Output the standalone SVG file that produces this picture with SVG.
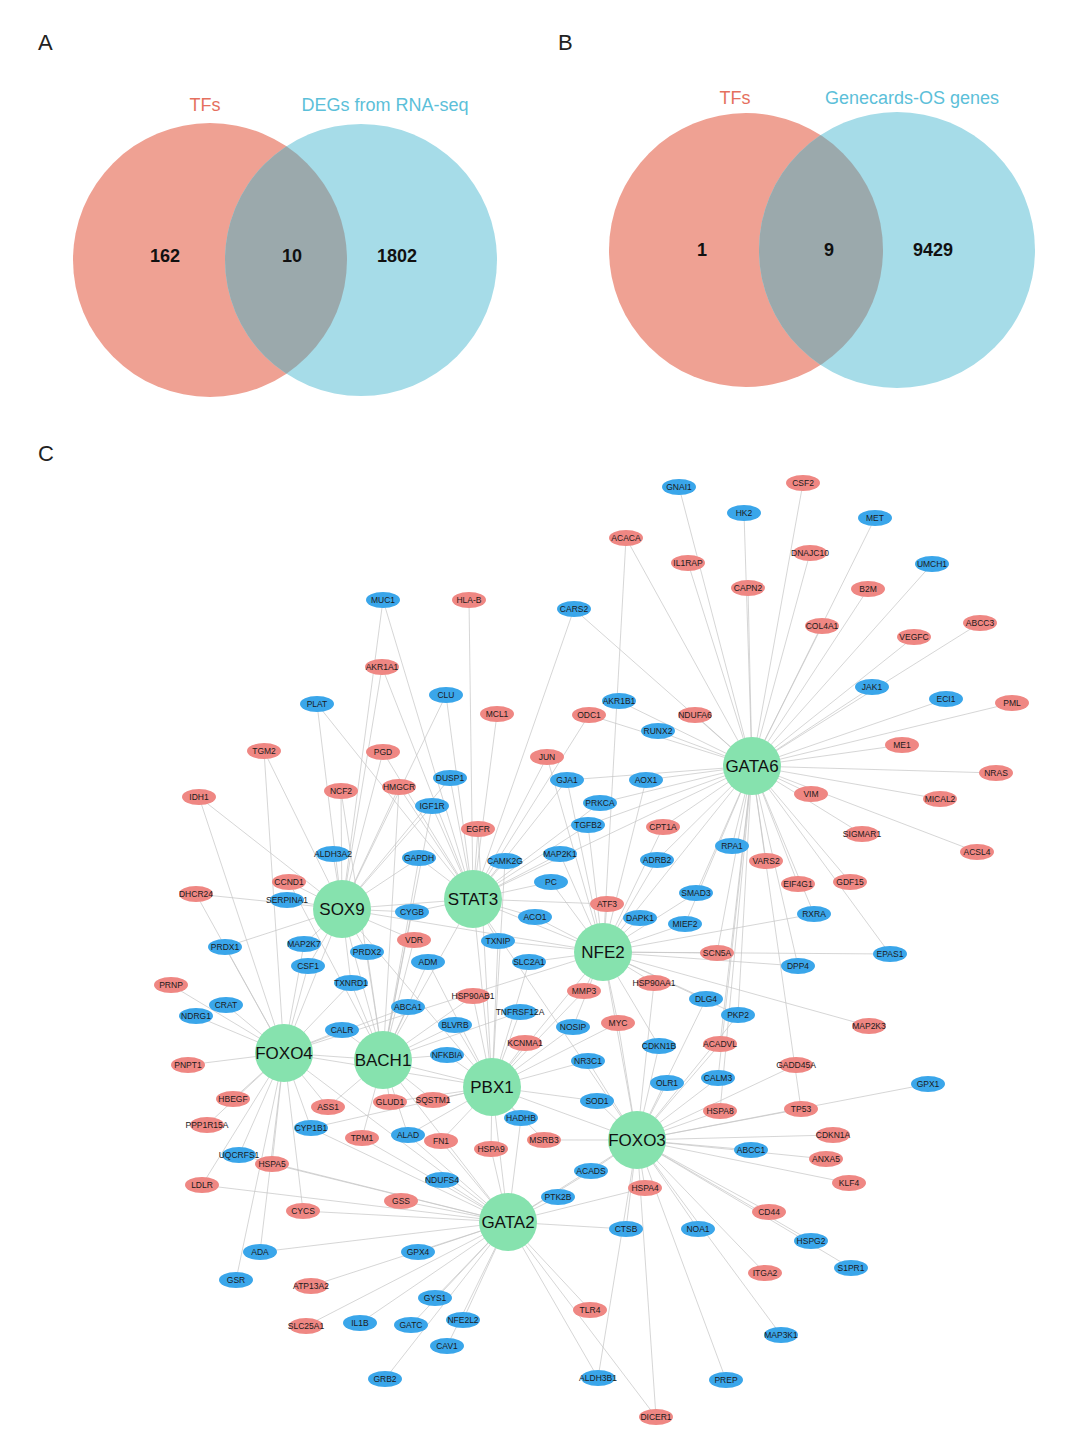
<svg xmlns="http://www.w3.org/2000/svg" width="1072" height="1452" viewBox="0 0 1072 1452">
<style>
text{font-family:"Liberation Sans",Arial,sans-serif}
.L{font-size:22px;fill:#222}
.vt{font-size:18px}
.vn{font-size:18px;font-weight:bold;fill:#111;text-anchor:middle}
.r{fill:#EF8783}
.b{fill:#3AA6EA}
.h{fill:#86E2AE}
.n text{font-size:8.5px;fill:#1a1a1a;text-anchor:middle}
.hub text{font-size:17px;fill:#111;text-anchor:middle}
#edges path{stroke:#c4c4c4;stroke-width:0.7;fill:none}
</style>
<defs>
<clipPath id="ca"><circle cx="210" cy="260" r="137"/></clipPath>
<clipPath id="cb"><circle cx="746" cy="250" r="137"/></clipPath>
</defs>
<rect width="1072" height="1452" fill="#fff"/>
<text class="L" x="38" y="50">A</text>
<text class="L" x="558" y="50">B</text>
<text class="L" x="38" y="461">C</text>
<g id="vennA">
<circle cx="210" cy="260" r="137" fill="#EFA193"/>
<circle cx="361" cy="260" r="136" fill="#A6DCE8"/>
<circle cx="361" cy="260" r="136" fill="#9BA9AC" clip-path="url(#ca)"/>
<text class="vt" x="205" y="111" fill="#E5705E" text-anchor="middle">TFs</text>
<text class="vt" x="385" y="111" fill="#5CBFD9" text-anchor="middle">DEGs from RNA-seq</text>
<text class="vn" x="165" y="262">162</text>
<text class="vn" x="292" y="262">10</text>
<text class="vn" x="397" y="262">1802</text>
</g>
<g id="vennB">
<circle cx="746" cy="250" r="137" fill="#EFA193"/>
<circle cx="897" cy="250" r="138" fill="#A6DCE8"/>
<circle cx="897" cy="250" r="138" fill="#9BA9AC" clip-path="url(#cb)"/>
<text class="vt" x="735" y="104" fill="#E5705E" text-anchor="middle">TFs</text>
<text class="vt" x="912" y="104" fill="#5CBFD9" text-anchor="middle">Genecards-OS genes</text>
<text class="vn" x="702" y="256">1</text>
<text class="vn" x="829" y="256">9</text>
<text class="vn" x="933" y="256">9429</text>
</g>
<g id="edges">
<path d="M752 766L679 487M752 766L803 483M752 766L744 513M752 766L875 518M752 766L626 538M752 766L688 563M752 766L810 553M752 766L932 564M752 766L748 588M752 766L868 589M752 766L822 626M752 766L980 623M752 766L914 637M752 766L872 687M752 766L946 699M752 766L1012 703M752 766L902 745M752 766L996 773M752 766L811 794M752 766L940 799M752 766L862 834M752 766L977 852M752 766L658 731M752 766L695 715M752 766L619 701M752 766L589 715M752 766L798 884M752 766L850 882M752 766L814 914M752 766L890 954M752 766L766 861M752 766L732 846M752 766L798 966M752 766L717 953M752 766L663 827M752 766L657 860M752 766L646 780M752 766L696 893M752 766L738 1015M752 766L720 1044M752 766L685 924M752 766L718 1078M752 766L567 780M752 766L600 803M752 766L588 825M752 766L720 1111M752 766L801 1109M752 766L574 609"/>
<path d="M342 909L199 797M342 909L264 751M342 909L317 704M342 909L382 667M342 909L341 791M342 909L383 752M342 909L333 854M342 909L289 882M342 909L196 894M342 909L287 900M342 909L304 944M342 909L225 947M342 909L412 912M342 909L419 858M342 909L399 787M342 909L383 600M342 909L446 695M342 909L450 778M342 909L432 806M342 909L308 966M342 909L367 952M342 909L414 940M342 909L351 983"/>
<path d="M473 899L469 600M473 899L497 714M473 899L446 695M473 899L547 757M473 899L478 829M473 899L505 861M473 899L560 854M473 899L551 882M473 899L419 858M473 899L432 806M473 899L450 778M473 899L567 780M473 899L600 803M473 899L588 825M473 899L535 917M473 899L498 941M473 899L412 912M473 899L607 904M473 899L399 787M473 899L383 752M473 899L382 667M473 899L383 600M473 899L574 609M473 899L589 715M473 899L317 704"/>
<path d="M603 952L607 904M603 952L640 918M603 952L685 924M603 952L696 893M603 952L717 953M603 952L654 983M603 952L584 991M603 952L618 1023M603 952L706 999M603 952L738 1015M603 952L529 962M603 952L535 917M603 952L551 882M603 952L588 825M603 952L657 860M603 952L663 827M603 952L890 954M603 952L869 1026M603 952L798 966M603 952L814 914M603 952L646 780M603 952L547 757M603 952L567 780M603 952L560 854M603 952L498 941M603 952L573 1027M603 952L659 1046M603 952L626 538"/>
<path d="M284 1053L171 985M284 1053L226 1005M284 1053L196 1016M284 1053L188 1065M284 1053L233 1099M284 1053L207 1125M284 1053L239 1155M284 1053L308 966M284 1053L225 947M284 1053L304 944M284 1053L351 983M284 1053L342 1030M284 1053L408 1007M284 1053L311 1128M284 1053L328 1107M284 1053L202 1185M284 1053L272 1164M284 1053L196 894M284 1053L199 797M284 1053L260 1252M284 1053L236 1280M284 1053L303 1211M284 1053L264 751"/>
<path d="M383 1060L342 1030M383 1060L408 1007M383 1060L455 1025M383 1060L447 1055M383 1060L390 1102M383 1060L433 1100M383 1060L428 962M383 1060L367 952M383 1060L414 940M383 1060L351 983M383 1060L473 996M383 1060L520 1012M383 1060L328 1107M383 1060L362 1138M383 1060L408 1135M383 1060L412 912M383 1060L419 858M383 1060L289 882M383 1060L399 787M383 1060L432 806M383 1060L341 791"/>
<path d="M492 1087L521 1118M492 1087L433 1100M492 1087L390 1102M492 1087L441 1141M492 1087L491 1149M492 1087L544 1140M492 1087L588 1061M492 1087L597 1101M492 1087L525 1043M492 1087L573 1027M492 1087L455 1025M492 1087L447 1055M492 1087L520 1012M492 1087L473 996M492 1087L584 991M492 1087L408 1135M492 1087L529 962M492 1087L428 962M492 1087L618 1023M492 1087L498 941M492 1087L478 829M492 1087L505 861M492 1087L311 1128"/>
<path d="M637 1140L597 1101M637 1140L667 1083M637 1140L659 1046M637 1140L718 1078M637 1140L720 1111M637 1140L801 1109M637 1140L833 1135M637 1140L751 1150M637 1140L826 1159M637 1140L849 1183M637 1140L645 1188M637 1140L591 1171M637 1140L769 1212M637 1140L626 1229M637 1140L698 1229M637 1140L811 1241M637 1140L851 1268M637 1140L765 1273M637 1140L781 1335M637 1140L726 1380M637 1140L720 1044M637 1140L796 1065M637 1140L928 1084M637 1140L706 999M637 1140L738 1015M637 1140L618 1023M637 1140L588 1061M637 1140L544 1140M637 1140L654 983M637 1140L656 1417M637 1140L598 1378"/>
<path d="M508 1222L558 1197M508 1222L401 1201M508 1222L442 1180M508 1222L418 1252M508 1222L435 1298M508 1222L463 1320M508 1222L411 1325M508 1222L447 1346M508 1222L385 1379M508 1222L360 1323M508 1222L306 1326M508 1222L311 1286M508 1222L590 1310M508 1222L598 1378M508 1222L656 1417M508 1222L591 1171M508 1222L491 1149M508 1222L441 1141M508 1222L362 1138M508 1222L303 1211M508 1222L645 1188M508 1222L626 1229M508 1222L521 1118M508 1222L408 1135M508 1222L311 1128M508 1222L272 1164M508 1222L239 1155M508 1222L202 1185M508 1222L260 1252"/>
<path d="M342 909L473 899M342 909L284 1053M342 909L383 1060M473 899L603 952M473 899L492 1087M383 1060L492 1087M284 1053L383 1060M492 1087L637 1140M492 1087L508 1222M603 952L637 1140M603 952L752 766M473 899L383 1060M603 952L492 1087M637 1140L508 1222M383 1060L508 1222M284 1053L492 1087M342 909L603 952M473 899L637 1140M284 1053L508 1222M473 899L752 766M342 909L492 1087M284 1053L603 952"/>
</g>
<g id="n-GNAI1" class="n"><ellipse class="b" cx="679" cy="487" rx="17" ry="8"/><text x="679" y="490">GNAI1</text></g>
<g id="n-CSF2" class="n"><ellipse class="r" cx="803" cy="483" rx="17" ry="8"/><text x="803" y="486">CSF2</text></g>
<g id="n-HK2" class="n"><ellipse class="b" cx="744" cy="513" rx="17" ry="8"/><text x="744" y="516">HK2</text></g>
<g id="n-MET" class="n"><ellipse class="b" cx="875" cy="518" rx="17" ry="8"/><text x="875" y="521">MET</text></g>
<g id="n-ACACA" class="n"><ellipse class="r" cx="626" cy="538" rx="17" ry="8"/><text x="626" y="541">ACACA</text></g>
<g id="n-IL1RAP" class="n"><ellipse class="r" cx="688" cy="563" rx="17" ry="8"/><text x="688" y="566">IL1RAP</text></g>
<g id="n-DNAJC10" class="n"><ellipse class="r" cx="810" cy="553" rx="17" ry="8"/><text x="810" y="556">DNAJC10</text></g>
<g id="n-UMCH1" class="n"><ellipse class="b" cx="932" cy="564" rx="17" ry="8"/><text x="932" y="567">UMCH1</text></g>
<g id="n-CAPN2" class="n"><ellipse class="r" cx="748" cy="588" rx="17" ry="8"/><text x="748" y="591">CAPN2</text></g>
<g id="n-B2M" class="n"><ellipse class="r" cx="868" cy="589" rx="17" ry="8"/><text x="868" y="592">B2M</text></g>
<g id="n-MUC1" class="n"><ellipse class="b" cx="383" cy="600" rx="17" ry="8"/><text x="383" y="603">MUC1</text></g>
<g id="n-HLA-B" class="n"><ellipse class="r" cx="469" cy="600" rx="17" ry="8"/><text x="469" y="603">HLA-B</text></g>
<g id="n-CARS2" class="n"><ellipse class="b" cx="574" cy="609" rx="17" ry="8"/><text x="574" y="612">CARS2</text></g>
<g id="n-COL4A1" class="n"><ellipse class="r" cx="822" cy="626" rx="17" ry="8"/><text x="822" y="629">COL4A1</text></g>
<g id="n-ABCC3" class="n"><ellipse class="r" cx="980" cy="623" rx="17" ry="8"/><text x="980" y="626">ABCC3</text></g>
<g id="n-VEGFC" class="n"><ellipse class="r" cx="914" cy="637" rx="17" ry="8"/><text x="914" y="640">VEGFC</text></g>
<g id="n-AKR1A1" class="n"><ellipse class="r" cx="382" cy="667" rx="17" ry="8"/><text x="382" y="670">AKR1A1</text></g>
<g id="n-JAK1" class="n"><ellipse class="b" cx="872" cy="687" rx="17" ry="8"/><text x="872" y="690">JAK1</text></g>
<g id="n-CLU" class="n"><ellipse class="b" cx="446" cy="695" rx="17" ry="8"/><text x="446" y="698">CLU</text></g>
<g id="n-PLAT" class="n"><ellipse class="b" cx="317" cy="704" rx="17" ry="8"/><text x="317" y="707">PLAT</text></g>
<g id="n-AKR1B1" class="n"><ellipse class="b" cx="619" cy="701" rx="17" ry="8"/><text x="619" y="704">AKR1B1</text></g>
<g id="n-ECI1" class="n"><ellipse class="b" cx="946" cy="699" rx="17" ry="8"/><text x="946" y="702">ECI1</text></g>
<g id="n-PML" class="n"><ellipse class="r" cx="1012" cy="703" rx="17" ry="8"/><text x="1012" y="706">PML</text></g>
<g id="n-MCL1" class="n"><ellipse class="r" cx="497" cy="714" rx="17" ry="8"/><text x="497" y="717">MCL1</text></g>
<g id="n-ODC1" class="n"><ellipse class="r" cx="589" cy="715" rx="17" ry="8"/><text x="589" y="718">ODC1</text></g>
<g id="n-NDUFA6" class="n"><ellipse class="r" cx="695" cy="715" rx="17" ry="8"/><text x="695" y="718">NDUFA6</text></g>
<g id="n-RUNX2" class="n"><ellipse class="b" cx="658" cy="731" rx="17" ry="8"/><text x="658" y="734">RUNX2</text></g>
<g id="n-ME1" class="n"><ellipse class="r" cx="902" cy="745" rx="17" ry="8"/><text x="902" y="748">ME1</text></g>
<g id="n-TGM2" class="n"><ellipse class="r" cx="264" cy="751" rx="17" ry="8"/><text x="264" y="754">TGM2</text></g>
<g id="n-PGD" class="n"><ellipse class="r" cx="383" cy="752" rx="17" ry="8"/><text x="383" y="755">PGD</text></g>
<g id="n-JUN" class="n"><ellipse class="r" cx="547" cy="757" rx="17" ry="8"/><text x="547" y="760">JUN</text></g>
<g id="n-NCF2" class="n"><ellipse class="r" cx="341" cy="791" rx="17" ry="8"/><text x="341" y="794">NCF2</text></g>
<g id="n-HMGCR" class="n"><ellipse class="r" cx="399" cy="787" rx="17" ry="8"/><text x="399" y="790">HMGCR</text></g>
<g id="n-DUSP1" class="n"><ellipse class="b" cx="450" cy="778" rx="17" ry="8"/><text x="450" y="781">DUSP1</text></g>
<g id="n-GJA1" class="n"><ellipse class="b" cx="567" cy="780" rx="17" ry="8"/><text x="567" y="783">GJA1</text></g>
<g id="n-AOX1" class="n"><ellipse class="b" cx="646" cy="780" rx="17" ry="8"/><text x="646" y="783">AOX1</text></g>
<g id="n-IDH1" class="n"><ellipse class="r" cx="199" cy="797" rx="17" ry="8"/><text x="199" y="800">IDH1</text></g>
<g id="n-NRAS" class="n"><ellipse class="r" cx="996" cy="773" rx="17" ry="8"/><text x="996" y="776">NRAS</text></g>
<g id="n-VIM" class="n"><ellipse class="r" cx="811" cy="794" rx="17" ry="8"/><text x="811" y="797">VIM</text></g>
<g id="n-MICAL2" class="n"><ellipse class="r" cx="940" cy="799" rx="17" ry="8"/><text x="940" y="802">MICAL2</text></g>
<g id="n-PRKCA" class="n"><ellipse class="b" cx="600" cy="803" rx="17" ry="8"/><text x="600" y="806">PRKCA</text></g>
<g id="n-IGF1R" class="n"><ellipse class="b" cx="432" cy="806" rx="17" ry="8"/><text x="432" y="809">IGF1R</text></g>
<g id="n-TGFB2" class="n"><ellipse class="b" cx="588" cy="825" rx="17" ry="8"/><text x="588" y="828">TGFB2</text></g>
<g id="n-EGFR" class="n"><ellipse class="r" cx="478" cy="829" rx="17" ry="8"/><text x="478" y="832">EGFR</text></g>
<g id="n-CPT1A" class="n"><ellipse class="r" cx="663" cy="827" rx="17" ry="8"/><text x="663" y="830">CPT1A</text></g>
<g id="n-SIGMAR1" class="n"><ellipse class="r" cx="862" cy="834" rx="17" ry="8"/><text x="862" y="837">SIGMAR1</text></g>
<g id="n-ALDH3A2" class="n"><ellipse class="b" cx="333" cy="854" rx="17" ry="8"/><text x="333" y="857">ALDH3A2</text></g>
<g id="n-GAPDH" class="n"><ellipse class="b" cx="419" cy="858" rx="17" ry="8"/><text x="419" y="861">GAPDH</text></g>
<g id="n-CAMK2G" class="n"><ellipse class="b" cx="505" cy="861" rx="17" ry="8"/><text x="505" y="864">CAMK2G</text></g>
<g id="n-MAP2K1" class="n"><ellipse class="b" cx="560" cy="854" rx="17" ry="8"/><text x="560" y="857">MAP2K1</text></g>
<g id="n-ADRB2" class="n"><ellipse class="b" cx="657" cy="860" rx="17" ry="8"/><text x="657" y="863">ADRB2</text></g>
<g id="n-RPA1" class="n"><ellipse class="b" cx="732" cy="846" rx="17" ry="8"/><text x="732" y="849">RPA1</text></g>
<g id="n-VARS2" class="n"><ellipse class="r" cx="766" cy="861" rx="17" ry="8"/><text x="766" y="864">VARS2</text></g>
<g id="n-ACSL4" class="n"><ellipse class="r" cx="977" cy="852" rx="17" ry="8"/><text x="977" y="855">ACSL4</text></g>
<g id="n-CCND1" class="n"><ellipse class="r" cx="289" cy="882" rx="17" ry="8"/><text x="289" y="885">CCND1</text></g>
<g id="n-PC" class="n"><ellipse class="b" cx="551" cy="882" rx="17" ry="8"/><text x="551" y="885">PC</text></g>
<g id="n-EIF4G1" class="n"><ellipse class="r" cx="798" cy="884" rx="17" ry="8"/><text x="798" y="887">EIF4G1</text></g>
<g id="n-GDF15" class="n"><ellipse class="r" cx="850" cy="882" rx="17" ry="8"/><text x="850" y="885">GDF15</text></g>
<g id="n-DHCR24" class="n"><ellipse class="r" cx="196" cy="894" rx="17" ry="8"/><text x="196" y="897">DHCR24</text></g>
<g id="n-SERPINA1" class="n"><ellipse class="b" cx="287" cy="900" rx="17" ry="8"/><text x="287" y="903">SERPINA1</text></g>
<g id="n-SMAD3" class="n"><ellipse class="b" cx="696" cy="893" rx="17" ry="8"/><text x="696" y="896">SMAD3</text></g>
<g id="n-ATF3" class="n"><ellipse class="r" cx="607" cy="904" rx="17" ry="8"/><text x="607" y="907">ATF3</text></g>
<g id="n-CYGB" class="n"><ellipse class="b" cx="412" cy="912" rx="17" ry="8"/><text x="412" y="915">CYGB</text></g>
<g id="n-ACO1" class="n"><ellipse class="b" cx="535" cy="917" rx="17" ry="8"/><text x="535" y="920">ACO1</text></g>
<g id="n-DAPK1" class="n"><ellipse class="b" cx="640" cy="918" rx="17" ry="8"/><text x="640" y="921">DAPK1</text></g>
<g id="n-MIEF2" class="n"><ellipse class="b" cx="685" cy="924" rx="17" ry="8"/><text x="685" y="927">MIEF2</text></g>
<g id="n-RXRA" class="n"><ellipse class="b" cx="814" cy="914" rx="17" ry="8"/><text x="814" y="917">RXRA</text></g>
<g id="n-VDR" class="n"><ellipse class="r" cx="414" cy="940" rx="17" ry="8"/><text x="414" y="943">VDR</text></g>
<g id="n-TXNIP" class="n"><ellipse class="b" cx="498" cy="941" rx="17" ry="8"/><text x="498" y="944">TXNIP</text></g>
<g id="n-MAP2K7" class="n"><ellipse class="b" cx="304" cy="944" rx="17" ry="8"/><text x="304" y="947">MAP2K7</text></g>
<g id="n-PRDX1" class="n"><ellipse class="b" cx="225" cy="947" rx="17" ry="8"/><text x="225" y="950">PRDX1</text></g>
<g id="n-PRDX2" class="n"><ellipse class="b" cx="367" cy="952" rx="17" ry="8"/><text x="367" y="955">PRDX2</text></g>
<g id="n-SLC2A1" class="n"><ellipse class="b" cx="529" cy="962" rx="17" ry="8"/><text x="529" y="965">SLC2A1</text></g>
<g id="n-ADM" class="n"><ellipse class="b" cx="428" cy="962" rx="17" ry="8"/><text x="428" y="965">ADM</text></g>
<g id="n-SCN5A" class="n"><ellipse class="r" cx="717" cy="953" rx="17" ry="8"/><text x="717" y="956">SCN5A</text></g>
<g id="n-EPAS1" class="n"><ellipse class="b" cx="890" cy="954" rx="17" ry="8"/><text x="890" y="957">EPAS1</text></g>
<g id="n-CSF1" class="n"><ellipse class="b" cx="308" cy="966" rx="17" ry="8"/><text x="308" y="969">CSF1</text></g>
<g id="n-DPP4" class="n"><ellipse class="b" cx="798" cy="966" rx="17" ry="8"/><text x="798" y="969">DPP4</text></g>
<g id="n-TXNRD1" class="n"><ellipse class="b" cx="351" cy="983" rx="17" ry="8"/><text x="351" y="986">TXNRD1</text></g>
<g id="n-HSP90AB1" class="n"><ellipse class="r" cx="473" cy="996" rx="17" ry="8"/><text x="473" y="999">HSP90AB1</text></g>
<g id="n-HSP90AA1" class="n"><ellipse class="r" cx="654" cy="983" rx="17" ry="8"/><text x="654" y="986">HSP90AA1</text></g>
<g id="n-MMP3" class="n"><ellipse class="r" cx="584" cy="991" rx="17" ry="8"/><text x="584" y="994">MMP3</text></g>
<g id="n-PRNP" class="n"><ellipse class="r" cx="171" cy="985" rx="17" ry="8"/><text x="171" y="988">PRNP</text></g>
<g id="n-CRAT" class="n"><ellipse class="b" cx="226" cy="1005" rx="17" ry="8"/><text x="226" y="1008">CRAT</text></g>
<g id="n-ABCA1" class="n"><ellipse class="b" cx="408" cy="1007" rx="17" ry="8"/><text x="408" y="1010">ABCA1</text></g>
<g id="n-TNFRSF12A" class="n"><ellipse class="b" cx="520" cy="1012" rx="17" ry="8"/><text x="520" y="1015">TNFRSF12A</text></g>
<g id="n-DLG4" class="n"><ellipse class="b" cx="706" cy="999" rx="17" ry="8"/><text x="706" y="1002">DLG4</text></g>
<g id="n-NDRG1" class="n"><ellipse class="b" cx="196" cy="1016" rx="17" ry="8"/><text x="196" y="1019">NDRG1</text></g>
<g id="n-PKP2" class="n"><ellipse class="b" cx="738" cy="1015" rx="17" ry="8"/><text x="738" y="1018">PKP2</text></g>
<g id="n-NOSIP" class="n"><ellipse class="b" cx="573" cy="1027" rx="17" ry="8"/><text x="573" y="1030">NOSIP</text></g>
<g id="n-MYC" class="n"><ellipse class="r" cx="618" cy="1023" rx="17" ry="8"/><text x="618" y="1026">MYC</text></g>
<g id="n-MAP2K3" class="n"><ellipse class="r" cx="869" cy="1026" rx="17" ry="8"/><text x="869" y="1029">MAP2K3</text></g>
<g id="n-CALR" class="n"><ellipse class="b" cx="342" cy="1030" rx="17" ry="8"/><text x="342" y="1033">CALR</text></g>
<g id="n-BLVRB" class="n"><ellipse class="b" cx="455" cy="1025" rx="17" ry="8"/><text x="455" y="1028">BLVRB</text></g>
<g id="n-KCNMA1" class="n"><ellipse class="r" cx="525" cy="1043" rx="17" ry="8"/><text x="525" y="1046">KCNMA1</text></g>
<g id="n-CDKN1B" class="n"><ellipse class="b" cx="659" cy="1046" rx="17" ry="8"/><text x="659" y="1049">CDKN1B</text></g>
<g id="n-ACADVL" class="n"><ellipse class="r" cx="720" cy="1044" rx="17" ry="8"/><text x="720" y="1047">ACADVL</text></g>
<g id="n-NFKBIA" class="n"><ellipse class="b" cx="447" cy="1055" rx="17" ry="8"/><text x="447" y="1058">NFKBIA</text></g>
<g id="n-NR3C1" class="n"><ellipse class="b" cx="588" cy="1061" rx="17" ry="8"/><text x="588" y="1064">NR3C1</text></g>
<g id="n-GADD45A" class="n"><ellipse class="r" cx="796" cy="1065" rx="17" ry="8"/><text x="796" y="1068">GADD45A</text></g>
<g id="n-PNPT1" class="n"><ellipse class="r" cx="188" cy="1065" rx="17" ry="8"/><text x="188" y="1068">PNPT1</text></g>
<g id="n-OLR1" class="n"><ellipse class="b" cx="667" cy="1083" rx="17" ry="8"/><text x="667" y="1086">OLR1</text></g>
<g id="n-CALM3" class="n"><ellipse class="b" cx="718" cy="1078" rx="17" ry="8"/><text x="718" y="1081">CALM3</text></g>
<g id="n-GPX1" class="n"><ellipse class="b" cx="928" cy="1084" rx="17" ry="8"/><text x="928" y="1087">GPX1</text></g>
<g id="n-HBEGF" class="n"><ellipse class="r" cx="233" cy="1099" rx="17" ry="8"/><text x="233" y="1102">HBEGF</text></g>
<g id="n-ASS1" class="n"><ellipse class="r" cx="328" cy="1107" rx="17" ry="8"/><text x="328" y="1110">ASS1</text></g>
<g id="n-GLUD1" class="n"><ellipse class="r" cx="390" cy="1102" rx="17" ry="8"/><text x="390" y="1105">GLUD1</text></g>
<g id="n-SQSTM1" class="n"><ellipse class="r" cx="433" cy="1100" rx="17" ry="8"/><text x="433" y="1103">SQSTM1</text></g>
<g id="n-SOD1" class="n"><ellipse class="b" cx="597" cy="1101" rx="17" ry="8"/><text x="597" y="1104">SOD1</text></g>
<g id="n-HADHB" class="n"><ellipse class="b" cx="521" cy="1118" rx="17" ry="8"/><text x="521" y="1121">HADHB</text></g>
<g id="n-HSPA8" class="n"><ellipse class="r" cx="720" cy="1111" rx="17" ry="8"/><text x="720" y="1114">HSPA8</text></g>
<g id="n-TP53" class="n"><ellipse class="r" cx="801" cy="1109" rx="17" ry="8"/><text x="801" y="1112">TP53</text></g>
<g id="n-PPP1R15A" class="n"><ellipse class="r" cx="207" cy="1125" rx="17" ry="8"/><text x="207" y="1128">PPP1R15A</text></g>
<g id="n-CYP1B1" class="n"><ellipse class="b" cx="311" cy="1128" rx="17" ry="8"/><text x="311" y="1131">CYP1B1</text></g>
<g id="n-TPM1" class="n"><ellipse class="r" cx="362" cy="1138" rx="17" ry="8"/><text x="362" y="1141">TPM1</text></g>
<g id="n-ALAD" class="n"><ellipse class="b" cx="408" cy="1135" rx="17" ry="8"/><text x="408" y="1138">ALAD</text></g>
<g id="n-FN1" class="n"><ellipse class="r" cx="441" cy="1141" rx="17" ry="8"/><text x="441" y="1144">FN1</text></g>
<g id="n-HSPA9" class="n"><ellipse class="r" cx="491" cy="1149" rx="17" ry="8"/><text x="491" y="1152">HSPA9</text></g>
<g id="n-MSRB3" class="n"><ellipse class="r" cx="544" cy="1140" rx="17" ry="8"/><text x="544" y="1143">MSRB3</text></g>
<g id="n-ABCC1" class="n"><ellipse class="b" cx="751" cy="1150" rx="17" ry="8"/><text x="751" y="1153">ABCC1</text></g>
<g id="n-CDKN1A" class="n"><ellipse class="r" cx="833" cy="1135" rx="17" ry="8"/><text x="833" y="1138">CDKN1A</text></g>
<g id="n-UQCRFS1" class="n"><ellipse class="b" cx="239" cy="1155" rx="17" ry="8"/><text x="239" y="1158">UQCRFS1</text></g>
<g id="n-HSPA5" class="n"><ellipse class="r" cx="272" cy="1164" rx="17" ry="8"/><text x="272" y="1167">HSPA5</text></g>
<g id="n-ANXA5" class="n"><ellipse class="r" cx="826" cy="1159" rx="17" ry="8"/><text x="826" y="1162">ANXA5</text></g>
<g id="n-ACADS" class="n"><ellipse class="b" cx="591" cy="1171" rx="17" ry="8"/><text x="591" y="1174">ACADS</text></g>
<g id="n-NDUFS4" class="n"><ellipse class="b" cx="442" cy="1180" rx="17" ry="8"/><text x="442" y="1183">NDUFS4</text></g>
<g id="n-LDLR" class="n"><ellipse class="r" cx="202" cy="1185" rx="17" ry="8"/><text x="202" y="1188">LDLR</text></g>
<g id="n-HSPA4" class="n"><ellipse class="r" cx="645" cy="1188" rx="17" ry="8"/><text x="645" y="1191">HSPA4</text></g>
<g id="n-KLF4" class="n"><ellipse class="r" cx="849" cy="1183" rx="17" ry="8"/><text x="849" y="1186">KLF4</text></g>
<g id="n-PTK2B" class="n"><ellipse class="b" cx="558" cy="1197" rx="17" ry="8"/><text x="558" y="1200">PTK2B</text></g>
<g id="n-GSS" class="n"><ellipse class="r" cx="401" cy="1201" rx="17" ry="8"/><text x="401" y="1204">GSS</text></g>
<g id="n-CYCS" class="n"><ellipse class="r" cx="303" cy="1211" rx="17" ry="8"/><text x="303" y="1214">CYCS</text></g>
<g id="n-CD44" class="n"><ellipse class="r" cx="769" cy="1212" rx="17" ry="8"/><text x="769" y="1215">CD44</text></g>
<g id="n-CTSB" class="n"><ellipse class="b" cx="626" cy="1229" rx="17" ry="8"/><text x="626" y="1232">CTSB</text></g>
<g id="n-NOA1" class="n"><ellipse class="b" cx="698" cy="1229" rx="17" ry="8"/><text x="698" y="1232">NOA1</text></g>
<g id="n-HSPG2" class="n"><ellipse class="b" cx="811" cy="1241" rx="17" ry="8"/><text x="811" y="1244">HSPG2</text></g>
<g id="n-ADA" class="n"><ellipse class="b" cx="260" cy="1252" rx="17" ry="8"/><text x="260" y="1255">ADA</text></g>
<g id="n-GPX4" class="n"><ellipse class="b" cx="418" cy="1252" rx="17" ry="8"/><text x="418" y="1255">GPX4</text></g>
<g id="n-S1PR1" class="n"><ellipse class="b" cx="851" cy="1268" rx="17" ry="8"/><text x="851" y="1271">S1PR1</text></g>
<g id="n-ITGA2" class="n"><ellipse class="r" cx="765" cy="1273" rx="17" ry="8"/><text x="765" y="1276">ITGA2</text></g>
<g id="n-GSR" class="n"><ellipse class="b" cx="236" cy="1280" rx="17" ry="8"/><text x="236" y="1283">GSR</text></g>
<g id="n-ATP13A2" class="n"><ellipse class="r" cx="311" cy="1286" rx="17" ry="8"/><text x="311" y="1289">ATP13A2</text></g>
<g id="n-GYS1" class="n"><ellipse class="b" cx="435" cy="1298" rx="17" ry="8"/><text x="435" y="1301">GYS1</text></g>
<g id="n-TLR4" class="n"><ellipse class="r" cx="590" cy="1310" rx="17" ry="8"/><text x="590" y="1313">TLR4</text></g>
<g id="n-NFE2L2" class="n"><ellipse class="b" cx="463" cy="1320" rx="17" ry="8"/><text x="463" y="1323">NFE2L2</text></g>
<g id="n-IL1B" class="n"><ellipse class="b" cx="360" cy="1323" rx="17" ry="8"/><text x="360" y="1326">IL1B</text></g>
<g id="n-GATC" class="n"><ellipse class="b" cx="411" cy="1325" rx="17" ry="8"/><text x="411" y="1328">GATC</text></g>
<g id="n-SLC25A1" class="n"><ellipse class="r" cx="306" cy="1326" rx="17" ry="8"/><text x="306" y="1329">SLC25A1</text></g>
<g id="n-MAP3K1" class="n"><ellipse class="b" cx="781" cy="1335" rx="17" ry="8"/><text x="781" y="1338">MAP3K1</text></g>
<g id="n-CAV1" class="n"><ellipse class="b" cx="447" cy="1346" rx="17" ry="8"/><text x="447" y="1349">CAV1</text></g>
<g id="n-GRB2" class="n"><ellipse class="b" cx="385" cy="1379" rx="17" ry="8"/><text x="385" y="1382">GRB2</text></g>
<g id="n-ALDH3B1" class="n"><ellipse class="b" cx="598" cy="1378" rx="17" ry="8"/><text x="598" y="1381">ALDH3B1</text></g>
<g id="n-PREP" class="n"><ellipse class="b" cx="726" cy="1380" rx="17" ry="8"/><text x="726" y="1383">PREP</text></g>
<g id="n-DICER1" class="n"><ellipse class="r" cx="656" cy="1417" rx="17" ry="8"/><text x="656" y="1420">DICER1</text></g>
<g id="h-GATA6" class="hub"><circle class="h" cx="752" cy="766" r="29"/><text x="752" y="772">GATA6</text></g>
<g id="h-SOX9" class="hub"><circle class="h" cx="342" cy="909" r="29"/><text x="342" y="915">SOX9</text></g>
<g id="h-STAT3" class="hub"><circle class="h" cx="473" cy="899" r="29"/><text x="473" y="905">STAT3</text></g>
<g id="h-NFE2" class="hub"><circle class="h" cx="603" cy="952" r="29"/><text x="603" y="958">NFE2</text></g>
<g id="h-FOXO4" class="hub"><circle class="h" cx="284" cy="1053" r="29"/><text x="284" y="1059">FOXO4</text></g>
<g id="h-BACH1" class="hub"><circle class="h" cx="383" cy="1060" r="29"/><text x="383" y="1066">BACH1</text></g>
<g id="h-PBX1" class="hub"><circle class="h" cx="492" cy="1087" r="29"/><text x="492" y="1093">PBX1</text></g>
<g id="h-FOXO3" class="hub"><circle class="h" cx="637" cy="1140" r="29"/><text x="637" y="1146">FOXO3</text></g>
<g id="h-GATA2" class="hub"><circle class="h" cx="508" cy="1222" r="29"/><text x="508" y="1228">GATA2</text></g>
</svg>
